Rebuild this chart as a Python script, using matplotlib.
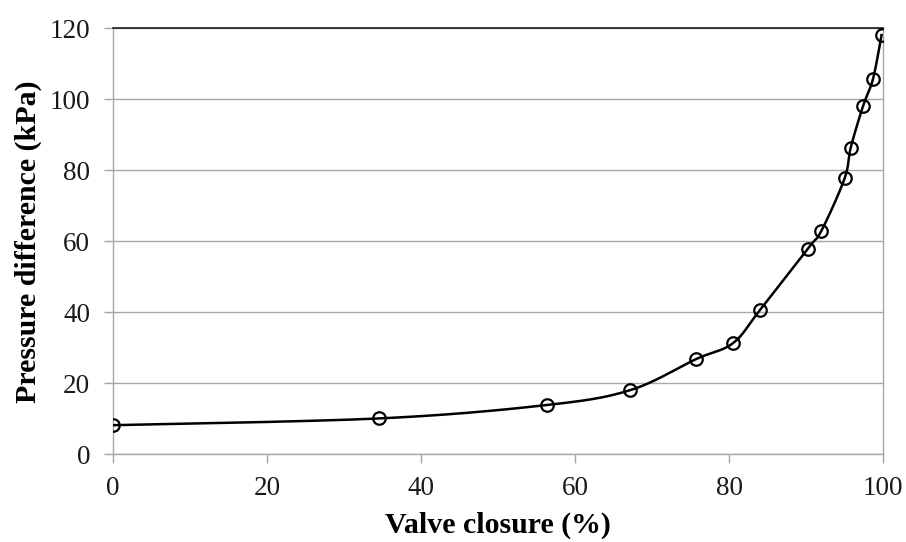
import matplotlib

matplotlib.use("Agg")

import matplotlib.pyplot as plt
import numpy as np

valve_closure = [0.0, 34.5, 56.4, 67.2, 75.7, 80.5, 84.0, 90.2, 92.0, 95.0, 95.8, 97.4, 98.7, 99.8]
pressure_diff = [8.2, 10.1, 13.9, 18.1, 26.8, 31.3, 40.6, 57.9, 63.0, 77.7, 86.4, 98.1, 105.8, 118.1]
x_ticks = [0, 20, 40, 60, 80, 100]
y_ticks = [0, 20, 40, 60, 80, 100, 120]

GRID = "#a6a6a6"


def smooth_curve(x, y, n=40):
    """Spreadsheet-style smoothed line: cubic Bezier segments with
    Catmull-Rom control points (tension 1/6)."""
    p = np.column_stack([x, y]).astype(float)
    ext = np.vstack([p[0], p, p[-1]])
    t = np.linspace(0, 1, n)[:, None]
    out = []
    for i in range(len(p) - 1):
        p0, p1, p2, p3 = ext[i], ext[i + 1], ext[i + 2], ext[i + 3]
        c1 = p1 + (p2 - p0) / 6
        c2 = p2 - (p3 - p1) / 6
        seg = ((1 - t) ** 3) * p1 + 3 * ((1 - t) ** 2) * t * c1 + 3 * (1 - t) * t ** 2 * c2 + t ** 3 * p2
        out.append(seg if i == 0 else seg[1:])
    curve = np.vstack(out)
    return curve[:, 0], curve[:, 1]


plt.rcParams["font.family"] = ["Liberation Serif", "DejaVu Serif"]

fig = plt.figure(figsize=(9.06, 5.42), dpi=100)
ax = fig.add_axes([0.1247, 0.1618, 0.85, 0.786])

sx, sy = smooth_curve(valve_closure, pressure_diff)
ax.plot(sx, sy, color="black", lw=1.8, zorder=3)
ax.plot(valve_closure, pressure_diff, ls="none", marker="o", ms=9,
        mfc="none", mec="black", mew=1.6, zorder=4)

ax.set_xlim(0, 100)
ax.set_ylim(0, 120)
ax.set_xticks(x_ticks)
ax.set_yticks(y_ticks)
ax.yaxis.grid(True, color=GRID, lw=1.0)
ax.set_axisbelow(True)

for side in ("left", "right", "bottom"):
    ax.spines[side].set_color(GRID)
    ax.spines[side].set_linewidth(1.0)
ax.spines["top"].set_color("#1a1a1a")
ax.spines["top"].set_linewidth(1.2)

ax.tick_params(axis="both", direction="out", length=6.5, width=1.0,
               color=GRID, labelsize=19.5, labelcolor="#1a1a1a")
ax.tick_params(axis="x", pad=9)
ax.tick_params(axis="y", pad=10)

ax.set_xlabel("Valve closure (%)", fontsize=21.5, fontweight="bold", labelpad=8)
ax.set_ylabel("Pressure difference (kPa)", fontsize=21.5, fontweight="bold", labelpad=5)

fig.savefig("out.png", dpi=100)
